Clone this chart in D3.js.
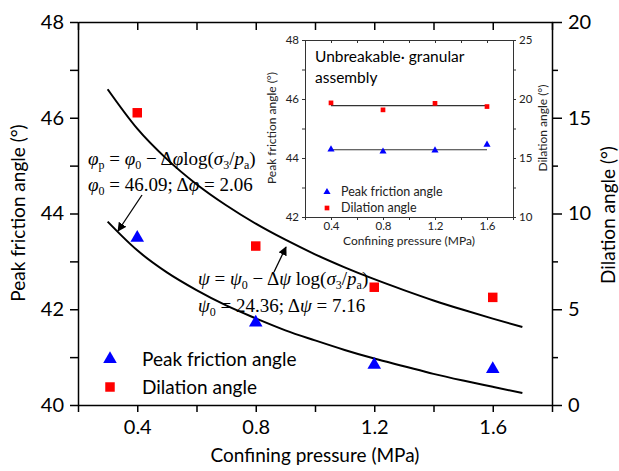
<!DOCTYPE html>
<html>
<head>
<meta charset="utf-8">
<script src="https://cdn.jsdelivr.net/npm/d3@7"></script>
<style>
  body { margin: 0; background: #fff; }
  svg { font-family: Lato, "Open Sans", sans-serif; }
  .eq { font-family: "Liberation Serif", "DejaVu Serif", serif; font-size: 19px; }
</style>
</head>
<body>
<svg id="mainsvg" width="619" height="471"></svg>
<script>
// ---- data ----
const pressure = [0.4, 0.8, 1.2, 1.6];
const peakFriction = [43.49, 41.72, 40.84, 40.75];
const dilation = [15.26, 8.30, 6.15, 5.62];

// fitted curves
const fitX = [0.3, 0.4, 0.5, 0.6, 0.7, 0.8, 0.9, 1.0, 1.1, 1.2, 1.3, 1.4, 1.5, 1.6, 1.7];
const fitPeak = [43.83, 43.23, 42.77, 42.40, 42.08, 41.81, 41.56, 41.35, 41.15, 40.97, 40.81, 40.65, 40.51, 40.38, 40.25];
const fitDilation = [16.49, 14.43, 12.84, 11.53, 10.43, 9.47, 8.63, 7.87, 7.19, 6.57, 6.00, 5.46, 4.97, 4.51, 4.07];

// inset: unbreakable granular assembly
const insetPeak = [44.29, 44.22, 44.26, 44.45];
const insetDilation = [19.67, 19.08, 19.63, 19.36];
const insetPeakFit = 44.28;
const insetDilationFit = 19.44;

const xTicks = [0.2, 0.4, 0.6, 0.8, 1.0, 1.2, 1.4, 1.6, 1.8];
const xLabels = [0.4, 0.8, 1.2, 1.6];
const yLeftTicks = [40, 41, 42, 43, 44, 45, 46, 47, 48];
const yLeftLabels = [40, 42, 44, 46, 48];
const yRightTicks = [0, 2.5, 5, 7.5, 10, 12.5, 15, 17.5, 20];
const yRightLabels = [0, 5, 10, 15, 20];
const insetLeftTicks = [42, 43, 44, 45, 46, 47, 48];
const insetLeftLabels = [42, 44, 46, 48];
const insetRightTicks = [10, 12.5, 15, 17.5, 20, 22.5, 25];
const insetRightLabels = [10, 15, 20, 25];

const svg = d3.select('#mainsvg');
const blue = '#0000ff', red = '#ff0000';

// ---- main plot ----
const x = d3.scaleLinear().domain([0.2, 1.8]).range([78, 552]);
const yL = d3.scaleLinear().domain([40, 48]).range([405, 22]);
const yR = d3.scaleLinear().domain([0, 20]).range([405, 22]);

const fmt = v => xLabels.some(l => Math.abs(l - v) < 1e-6) ? d3.format('.1f')(v) : '';
const fmtSet = set => v => set.includes(v) ? String(v) : '';

function styleAxis(g, fs) {
  g.select('.domain').attr('stroke', '#000').attr('stroke-width', 1.5);
  g.selectAll('.tick line').attr('stroke', '#000').attr('stroke-width', 1.5);
  g.selectAll('.tick text').attr('font-size', fs).attr('fill', '#000')
    .attr('font-family', 'Lato, sans-serif');
}

const gx = svg.append('g').attr('transform', 'translate(0,405)')
  .call(d3.axisBottom(x).tickValues(xTicks).tickFormat(fmt).tickSize(7).tickSizeOuter(0).tickPadding(8));
styleAxis(gx, 20);
const gxt = svg.append('g').attr('transform', 'translate(0,22)')
  .call(d3.axisBottom(x).tickValues(xTicks).tickFormat('').tickSize(8).tickSizeOuter(0));
styleAxis(gxt, 20);

const gl = svg.append('g').attr('transform', 'translate(78,0)')
  .call(d3.axisLeft(yL).tickValues(yLeftTicks).tickFormat(fmtSet(yLeftLabels)).tickSize(8).tickSizeOuter(0).tickPadding(6));
styleAxis(gl, 20);

const gr = svg.append('g').attr('transform', 'translate(552,0)')
  .call(d3.axisRight(yR).tickValues(yRightTicks).tickFormat(fmtSet(yRightLabels)).tickSize(10).tickSizeOuter(0).tickPadding(6));
styleAxis(gr, 20);
gr.selectAll('.tick').filter(d => !yRightLabels.includes(d)).select('line').attr('x2', 6);

// axis titles
svg.append('text').attr('x', 315).attr('y', 462).attr('text-anchor', 'middle')
  .attr('font-size', 19).text('Confining pressure (MPa)');
svg.append('text').attr('transform', 'translate(25,213) rotate(-90)').attr('text-anchor', 'middle')
  .attr('font-size', 19).text('Peak friction angle (°)');
svg.append('text').attr('transform', 'translate(615,215) rotate(-90)').attr('text-anchor', 'middle')
  .attr('font-size', 19).text('Dilation angle (°)');

// fitted curves
const lineL = d3.line().x((d, i) => x(fitX[i])).y(d => yL(d)).curve(d3.curveMonotoneX);
const lineR = d3.line().x((d, i) => x(fitX[i])).y(d => yR(d)).curve(d3.curveMonotoneX);
svg.append('path').attr('d', lineL(fitPeak)).attr('fill', 'none').attr('stroke', '#000').attr('stroke-width', 2);
svg.append('path').attr('d', lineR(fitDilation)).attr('fill', 'none').attr('stroke', '#000').attr('stroke-width', 2);

// markers
const tri = d3.symbol().type(d3.symbolTriangle);
const sq = d3.symbol().type(d3.symbolSquare);
svg.append('g').selectAll('path').data(peakFriction).join('path')
  .attr('transform', (d, i) => `translate(${x(pressure[i])},${yL(d)})`)
  .attr('d', tri.size(80)()).attr('fill', blue);
svg.append('g').selectAll('path').data(dilation).join('path')
  .attr('transform', (d, i) => `translate(${x(pressure[i])},${yR(d)})`)
  .attr('d', sq.size(90)()).attr('fill', red);

// legend
svg.append('path').attr('transform', 'translate(110,359)').attr('d', tri.size(80)()).attr('fill', blue);
svg.append('text').attr('x', 142).attr('y', 366).attr('font-size', 19).text('Peak friction angle');
svg.append('path').attr('transform', 'translate(110,387)').attr('d', sq.size(90)()).attr('fill', red);
svg.append('text').attr('x', 142).attr('y', 394).attr('font-size', 19).text('Dilation angle');

// equations
function eq(xp, yp, parts) {
  const t = svg.append('text').attr('class', 'eq').attr('x', xp).attr('y', yp);
  parts.forEach(p => {
    const s = t.append('tspan').text(p[0]);
    if (p[1] === 'i') s.attr('font-style', 'italic');
    if (p[1] === 'sub') s.attr('font-size', 12).attr('dy', 4);
    if (p[1] === 'up') s.attr('dy', -4);
  });
}
eq(88, 165, [['φ', 'i'], ['p', 'sub'], [' = ', 'up'], ['φ', 'i'], ['0', 'sub'], [' − Δ', 'up'], ['φ', 'i'], ['log(', ''], ['σ', 'i'], ['3', 'sub'], ['/', 'up'], ['p', 'i'], ['a', 'sub'], [')', 'up']]);
eq(88, 191, [['φ', 'i'], ['0', 'sub'], [' = 46.09; Δ', 'up'], ['φ', 'i'], [' = 2.06', '']]);
eq(198, 285, [['ψ', 'i'], [' = ', ''], ['ψ', 'i'], ['0', 'sub'], [' − Δ', 'up'], ['ψ', 'i'], [' log(', ''], ['σ', 'i'], ['3', 'sub'], ['/', 'up'], ['p', 'i'], ['a', 'sub'], [')', 'up']]);
eq(198, 312, [['ψ', 'i'], ['0', 'sub'], [' = 24.36; Δ', 'up'], ['ψ', 'i'], [' = 7.16', '']]);

// arrows
svg.append('defs').append('marker').attr('id', 'ah').attr('viewBox', '0 0 10 10')
  .attr('refX', 9).attr('refY', 5).attr('markerWidth', 9).attr('markerHeight', 9)
  .attr('markerUnits', 'userSpaceOnUse').attr('orient', 'auto')
  .append('path').attr('d', 'M0,0L10,5L0,10z').attr('fill', '#000');
svg.append('line').attr('x1', 142).attr('y1', 195).attr('x2', 118).attr('y2', 231)
  .attr('stroke', '#000').attr('stroke-width', 1.3).attr('marker-end', 'url(#ah)');
svg.append('line').attr('x1', 274).attr('y1', 272).attr('x2', 286).attr('y2', 247)
  .attr('stroke', '#000').attr('stroke-width', 1.3).attr('marker-end', 'url(#ah)');

// ---- inset ----
const ix = d3.scaleLinear().domain([0.2, 1.8]).range([305, 513]);
const iyL = d3.scaleLinear().domain([42, 48]).range([217, 40]);
const iyR = d3.scaleLinear().domain([10, 25]).range([217, 40]);

svg.append('rect').attr('x', 305).attr('y', 40).attr('width', 208).attr('height', 177).attr('fill', '#fff');

function styleInset(g) {
  g.select('.domain').attr('stroke', '#333').attr('stroke-width', 1);
  g.selectAll('.tick line').attr('stroke', '#333').attr('stroke-width', 1);
  g.selectAll('.tick text').attr('font-size', 11.5).attr('fill', '#222').attr('font-family', 'Lato, sans-serif');
}
const igx = svg.append('g').attr('transform', 'translate(0,217)')
  .call(d3.axisBottom(ix).tickValues(xTicks).tickFormat(fmt).tickSize(3).tickSizeOuter(0).tickPadding(2));
styleInset(igx);
const igt = svg.append('g').attr('transform', 'translate(0,40)')
  .call(d3.axisBottom(ix).tickValues(xTicks).tickFormat('').tickSize(3).tickSizeOuter(0));
styleInset(igt);
const igl = svg.append('g').attr('transform', 'translate(305,0)')
  .call(d3.axisLeft(iyL).tickValues(insetLeftTicks).tickFormat(fmtSet(insetLeftLabels)).tickSize(3).tickSizeOuter(0).tickPadding(3));
styleInset(igl);
const igr = svg.append('g').attr('transform', 'translate(513,0)')
  .call(d3.axisRight(iyR).tickValues(insetRightTicks).tickFormat(fmtSet(insetRightLabels)).tickSize(3).tickSizeOuter(0).tickPadding(3));
styleInset(igr);

svg.append('text').attr('x', 409).attr('y', 245).attr('text-anchor', 'middle')
  .attr('font-size', 12).attr('fill', '#222').text('Confining pressure (MPa)');
svg.append('text').attr('transform', 'translate(276,128) rotate(-90)').attr('text-anchor', 'middle')
  .attr('font-size', 12).attr('fill', '#222').text('Peak friction angle (°)');
svg.append('text').attr('transform', 'translate(547,128) rotate(-90)').attr('text-anchor', 'middle')
  .attr('font-size', 12).attr('fill', '#222').text('Dilation angle (°)');

svg.append('text').attr('x', 315).attr('y', 62).attr('font-size', 15.5).text('Unbreakable· granular');
svg.append('text').attr('x', 315).attr('y', 83).attr('font-size', 15.5).text('assembly');

svg.append('line').attr('x1', ix(0.4)).attr('x2', ix(1.6)).attr('y1', iyR(insetDilationFit)).attr('y2', iyR(insetDilationFit))
  .attr('stroke', '#333').attr('stroke-width', 1.2);
svg.append('line').attr('x1', ix(0.4)).attr('x2', ix(1.6)).attr('y1', iyL(insetPeakFit)).attr('y2', iyL(insetPeakFit))
  .attr('stroke', '#333').attr('stroke-width', 1.2);

svg.append('g').selectAll('path').data(insetPeak).join('path')
  .attr('transform', (d, i) => `translate(${ix(pressure[i])},${iyL(d)})`)
  .attr('d', tri.size(22)()).attr('fill', blue);
svg.append('g').selectAll('path').data(insetDilation).join('path')
  .attr('transform', (d, i) => `translate(${ix(pressure[i])},${iyR(d)})`)
  .attr('d', sq.size(22)()).attr('fill', red);

svg.append('path').attr('transform', 'translate(327,192)').attr('d', tri.size(22)()).attr('fill', blue);
svg.append('text').attr('x', 341).attr('y', 196).attr('font-size', 12.5).attr('fill', '#222').text('Peak friction angle');
svg.append('path').attr('transform', 'translate(327,208)').attr('d', sq.size(22)()).attr('fill', red);
svg.append('text').attr('x', 341).attr('y', 212).attr('font-size', 12.5).attr('fill', '#222').text('Dilation angle');
</script>
</body>
</html>
